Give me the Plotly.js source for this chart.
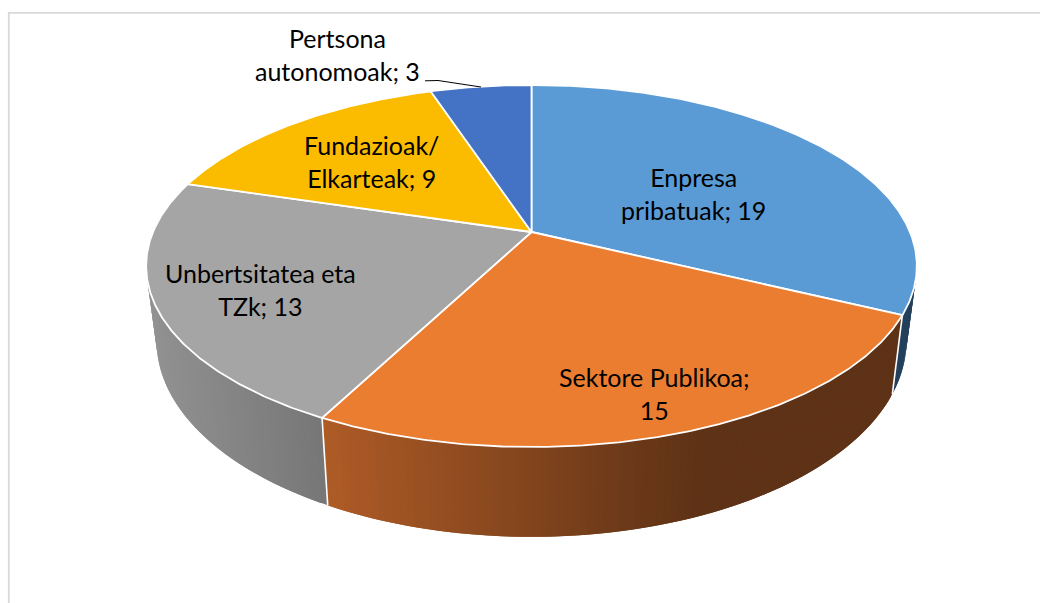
<!DOCTYPE html>
<html>
<head>
<meta charset="utf-8">
<script src="https://cdn.plot.ly/plotly-3.0.1.min.js"></script>
<style>html,body{margin:0;padding:0;background:#fff}#chart{width:1040px;height:603px}</style>
</head>
<body>
<div id="chart"></div>
<script>
var categories = ["Enpresa pribatuak", "Sektore Publikoa", "Unbertsitatea eta TZk", "Fundazioak/ Elkarteak", "Pertsona autonomoak"];
var values = [19, 15, 13, 9, 3];
var labels = ["Enpresa<br>pribatuak; 19", "Sektore Publikoa;<br>15", "Unbertsitatea eta<br>TZk; 13", "Fundazioak/<br>Elkarteak; 9", "Pertsona<br>autonomoak; 3"];
var topColors = ["#5B9BD5", "#EB7D31", "#A5A5A5", "#FBBC00", "#4472C4"];

/* projection of the tilted disc onto the page (page pixels) */
var APEX_X = 531.5, APEX_Y = 232, C = 0.18785, P = -131.03, D = 378.5;
var RIM_SCALE_X = 0.973, RIM_Y0 = 304, RIM_SCALE_Y = 1.083;
function topPt(t) {
  var u = Math.sin(t), v = Math.cos(t), w = 1 + C * v;
  return [APEX_X + D * u / w, (APEX_Y + P * v) / w];
}
function rimPt(t) {
  var p = topPt(t);
  return [APEX_X + RIM_SCALE_X * (p[0] - APEX_X), RIM_Y0 + RIM_SCALE_Y * (p[1] - APEX_Y)];
}
function lerpStops(stops, x) {
  if (x <= stops[0][0]) return stops[0][1];
  for (var i = 1; i < stops.length; i++) {
    if (x <= stops[i][0]) {
      var f = (x - stops[i-1][0]) / (stops[i][0] - stops[i-1][0]);
      return stops[i-1][1].map(function (c, k) { return c + f * (stops[i][1][k] - c); });
    }
  }
  return stops[stops.length-1][1];
}
var sideStops = [
  [[0, [36, 64, 92]]],
  [[328, [174, 91, 38]], [620, [110, 58, 25]], [700, [94, 50, 22]]],
  [[150, [146, 146, 146]], [328, [118, 118, 118]]],
  [[0, [150, 113, 0]]],
  [[0, [40, 67, 115]]]
];

var total = values.reduce(function (a, b) { return a + b; }, 0);
var edges = [0];
values.forEach(function (v, i) { edges.push(edges[i] + v / total * 2 * Math.PI); });

var traces = [];
var STEP = 1 * Math.PI / 180;
var SIDE_FROM = 80 * Math.PI / 180, SIDE_TO = 300 * Math.PI / 180;

/* side wall, as thin overlapping strips so no seams show */
values.forEach(function (v, i) {
  var a = Math.max(edges[i], SIDE_FROM), b = Math.min(edges[i+1], SIDE_TO);
  if (b <= a) return;
  for (var t = a; t < b; t += STEP) {
    var t2 = Math.min(t + 2 * STEP, b);
    var tm = Math.min(t + STEP, b);
    var p1 = topPt(t), p2 = topPt(t2), q2 = rimPt(t2), q1 = rimPt(t), pm = topPt(tm), qm = rimPt(tm);
    var c = lerpStops(sideStops[i], (p1[0] + pm[0] + q1[0] + qm[0]) / 4);
    var col = "rgb(" + c.map(Math.round).join(",") + ")";
    traces.push({
      type: "scatter", mode: "lines", fill: "toself", fillcolor: col,
      x: [p1[0], p2[0], q2[0], q1[0], p1[0]],
      y: [p1[1], p2[1], q2[1], q1[1], p1[1]],
      line: { width: 0 }, hoverinfo: "skip", showlegend: false
    });
  }
});
/* white seams on the side wall */
[1, 2].forEach(function (k) {
  var p = topPt(edges[k]), q = rimPt(edges[k]);
  traces.push({
    type: "scatter", mode: "lines", x: [p[0], q[0]], y: [p[1], q[1]],
    line: { color: "#ffffff", width: 1.6 }, hoverinfo: "skip", showlegend: false
  });
});
/* top face */
values.forEach(function (v, i) {
  var xs = [APEX_X], ys = [APEX_Y];
  var n = Math.max(8, Math.ceil((edges[i+1] - edges[i]) / (0.5 * Math.PI / 180)));
  for (var j = 0; j <= n; j++) {
    var p = topPt(edges[i] + (edges[i+1] - edges[i]) * j / n);
    xs.push(p[0]); ys.push(p[1]);
  }
  xs.push(APEX_X); ys.push(APEX_Y);
  traces.push({
    type: "scatter", mode: "lines", fill: "toself", fillcolor: topColors[i],
    x: xs, y: ys, name: categories[i], text: categories[i] + "; " + v, hoverinfo: "text",
    line: { color: "#ffffff", width: 1.8 }, showlegend: false
  });
});

var labelX = [693, 654, 260, 371, 337];
var labelY = [193.5, 393.5, 289.5, 161, 54];
var annotations = labels.map(function (t, i) {
  return {
    x: labelX[i], y: labelY[i], xref: "x", yref: "y", text: t, showarrow: false,
    align: "center", xanchor: "center", yanchor: "middle",
    font: { family: "Lato, Carlito, sans-serif", size: 25, color: "#000000" }
  };
});

var layout = {
  width: 1040, height: 603,
  margin: { l: 0, r: 0, t: 0, b: 0 },
  paper_bgcolor: "#ffffff", plot_bgcolor: "#ffffff",
  xaxis: { range: [0, 1040], visible: false, fixedrange: true },
  yaxis: { range: [603, 0], visible: false, fixedrange: true },
  showlegend: false,
  annotations: annotations,
  shapes: [
    { type: "line", xref: "x", yref: "y", x0: 8, x1: 1040, y0: 12.8, y1: 12.8, line: { color: "#D9D9D9", width: 1.8 } },
    { type: "line", xref: "x", yref: "y", x0: 8.8, x1: 8.8, y0: 12, y1: 603, line: { color: "#D9D9D9", width: 1.8 } },
    { type: "path", xref: "x", yref: "y", path: "M425,80.8 L438,80.5 L481,87", line: { color: "#000000", width: 1 } }
  ]
};
Plotly.newPlot("chart", traces, layout, { staticPlot: true, displayModeBar: false });
</script>
</body>
</html>
